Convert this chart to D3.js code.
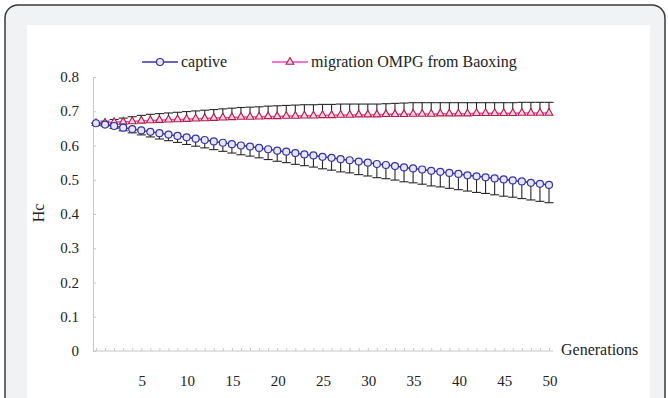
<!DOCTYPE html>
<meta charset="utf-8">
<style>
body { margin: 0; background: #fff; }
svg { display: block; }
text { font-family: "Liberation Serif", "Times New Roman", serif; fill: #222; }
</style>
<svg width="668" height="398"></svg>
<script src="https://d3js.org/d3.v7.min.js"></script>
<script>
var generations = d3.range(0, 51);
var xTickValues = [5, 10, 15, 20, 25, 30, 35, 40, 45, 50];
var yTickValues = [0, 0.1, 0.2, 0.3, 0.4, 0.5, 0.6, 0.7, 0.8];
var seriesNames = ["captive", "migration OMPG from Baoxing"];

// mean He per generation
var captive = [0.665, 0.661, 0.657, 0.652, 0.648, 0.644, 0.640, 0.636, 0.632, 0.628,
  0.624, 0.620, 0.616, 0.612, 0.608, 0.604, 0.600, 0.597, 0.593, 0.589,
  0.585, 0.582, 0.578, 0.574, 0.571, 0.567, 0.564, 0.560, 0.557, 0.553,
  0.550, 0.546, 0.543, 0.540, 0.536, 0.533, 0.530, 0.526, 0.523, 0.520,
  0.517, 0.513, 0.510, 0.507, 0.504, 0.501, 0.498, 0.495, 0.491, 0.488, 0.485];
var captiveSd = [0, 0.004, 0.007, 0.009, 0.011, 0.013, 0.015, 0.017, 0.018, 0.019,
  0.021, 0.022, 0.023, 0.024, 0.025, 0.026, 0.027, 0.028, 0.029, 0.030,
  0.031, 0.032, 0.033, 0.033, 0.034, 0.035, 0.036, 0.037, 0.037, 0.038,
  0.039, 0.040, 0.040, 0.041, 0.042, 0.042, 0.043, 0.044, 0.044, 0.045,
  0.046, 0.046, 0.047, 0.047, 0.048, 0.049, 0.049, 0.050, 0.050, 0.051, 0.052];
var migration = [0.665, 0.666, 0.668, 0.669, 0.670, 0.672, 0.673, 0.674, 0.675, 0.676,
  0.677, 0.678, 0.679, 0.680, 0.681, 0.682, 0.683, 0.683, 0.684, 0.685,
  0.685, 0.686, 0.686, 0.687, 0.687, 0.688, 0.688, 0.689, 0.689, 0.690,
  0.690, 0.690, 0.691, 0.691, 0.691, 0.692, 0.692, 0.692, 0.693, 0.693,
  0.693, 0.693, 0.694, 0.694, 0.694, 0.694, 0.694, 0.695, 0.695, 0.695, 0.695];
var migrationSd = [0, 0.005, 0.008, 0.011, 0.014, 0.016, 0.018, 0.019, 0.020, 0.021,
  0.022, 0.023, 0.024, 0.025, 0.026, 0.027, 0.028, 0.029, 0.029, 0.030,
  0.031, 0.031, 0.032, 0.032, 0.032, 0.032, 0.032, 0.032, 0.032, 0.031,
  0.031, 0.031, 0.031, 0.032, 0.033, 0.033, 0.033, 0.033, 0.032, 0.032,
  0.032, 0.032, 0.031, 0.031, 0.031, 0.031, 0.031, 0.031, 0.031, 0.031, 0.031];

var svg = d3.select("svg");

// card frame
svg.append("rect").attr("x", 5).attr("y", 5).attr("width", 660).attr("height", 420)
  .attr("rx", 13).attr("fill", "#f1f2f4").attr("stroke", "#3a3a3a").attr("stroke-width", 1.5);
svg.append("rect").attr("x", 27).attr("y", 25).attr("width", 623).attr("height", 400).attr("fill", "#fff");

var x = d3.scaleLinear().domain([0, 50]).range([96, 549]);
var y = d3.scaleLinear().domain([0, 0.8]).range([351, 77]);

var axisColor = "#c8c8c8";

// y axis
var yAxis = svg.append("g").attr("transform", "translate(93,0)")
  .call(d3.axisRight(y).tickValues(yTickValues).tickSize(3).tickFormat(""));
yAxis.select(".domain").attr("stroke", axisColor);
yAxis.selectAll("line").attr("stroke", axisColor);
svg.selectAll(".ylab").data(yTickValues).enter().append("text")
  .attr("x", 79).attr("y", function(d) { return y(d) + 5; })
  .attr("text-anchor", "end").style("font-size", "15px")
  .text(function(d) { return d === 0 ? "0" : d3.format(".1f")(d); });

// x axis with small ticks every generation
var xAxis = svg.append("g").attr("transform", "translate(0,351)")
  .call(d3.axisTop(x).tickValues(generations).tickSize(3).tickSizeOuter(0).tickFormat(""));
xAxis.select(".domain").attr("stroke", axisColor).attr("d", "M93,0H553");
xAxis.selectAll("line").attr("stroke", axisColor);
svg.selectAll(".xlab").data(xTickValues).enter().append("text")
  .attr("x", function(d) { return x(d) + 1; }).attr("y", 386)
  .attr("text-anchor", "middle").style("font-size", "15px")
  .text(function(d) { return d; });

svg.append("text").attr("x", 561).attr("y", 355).style("font-size", "16px").text("Generations");
svg.append("text").attr("transform", "translate(44,213) rotate(-90)")
  .attr("text-anchor", "middle").style("font-size", "16px").text("Hc");

var ink = "#262626";
var half = (x(1) - x(0)) / 2;

// captive error bars (downward)
var capG = svg.append("g").attr("stroke", ink).attr("stroke-width", 1.1);
generations.forEach(function(g, i) {
  var lo = y(captive[i] - captiveSd[i]);
  capG.append("line").attr("x1", x(g)).attr("x2", x(g)).attr("y1", y(captive[i])).attr("y2", lo);
  capG.append("line").attr("x1", x(g) - half).attr("x2", x(g) + half).attr("y1", lo).attr("y2", lo);
});
// migration error bars (upward)
var migG = svg.append("g").attr("stroke", ink).attr("stroke-width", 1.1);
generations.forEach(function(g, i) {
  var hi = y(migration[i] + migrationSd[i]);
  migG.append("line").attr("x1", x(g)).attr("x2", x(g)).attr("y1", y(migration[i])).attr("y2", hi);
  migG.append("line").attr("x1", x(g) - half).attr("x2", x(g) + half).attr("y1", hi).attr("y2", hi);
});

var line = d3.line().x(function(d, i) { return x(generations[i]); }).y(function(d) { return y(d); });

var blue = "#3535a5", pink = "#ff44cc", red = "#b01c40";
var tri = d3.symbol().type(d3.symbolTriangle).size(26);

svg.append("path").datum(migration).attr("d", line).attr("fill", "none").attr("stroke", pink).attr("stroke-width", 1.5);
svg.selectAll(".tri").data(migration).enter().append("path")
  .attr("d", tri).attr("transform", function(d, i) { return "translate(" + x(generations[i]) + "," + y(d) + ")"; })
  .attr("fill", "#f7d3e2").attr("stroke", red).attr("stroke-width", 1.1);

svg.append("path").datum(captive).attr("d", line).attr("fill", "none").attr("stroke", blue).attr("stroke-width", 1.5);
svg.selectAll(".dot").data(captive).enter().append("circle")
  .attr("cx", function(d, i) { return x(generations[i]); }).attr("cy", function(d) { return y(d); })
  .attr("r", 3.5).attr("fill", "#e6e6f5").attr("stroke", blue).attr("stroke-width", 1.2);

// legend
var legend = svg.append("g");
legend.append("line").attr("x1", 142).attr("x2", 178).attr("y1", 62).attr("y2", 62).attr("stroke", blue).attr("stroke-width", 1.5);
legend.append("circle").attr("cx", 160).attr("cy", 62).attr("r", 3.5).attr("fill", "#e6e6f5").attr("stroke", blue).attr("stroke-width", 1.2);
legend.append("text").attr("x", 181).attr("y", 67).style("font-size", "16px").text(seriesNames[0]);
legend.append("line").attr("x1", 272).attr("x2", 308).attr("y1", 62).attr("y2", 62).attr("stroke", pink).attr("stroke-width", 1.5);
legend.append("path").attr("d", tri).attr("transform", "translate(290,62)").attr("fill", "#f7d3e2").attr("stroke", red).attr("stroke-width", 1.1);
legend.append("text").attr("x", 311).attr("y", 67).style("font-size", "16px").text(seriesNames[1]);
</script>
